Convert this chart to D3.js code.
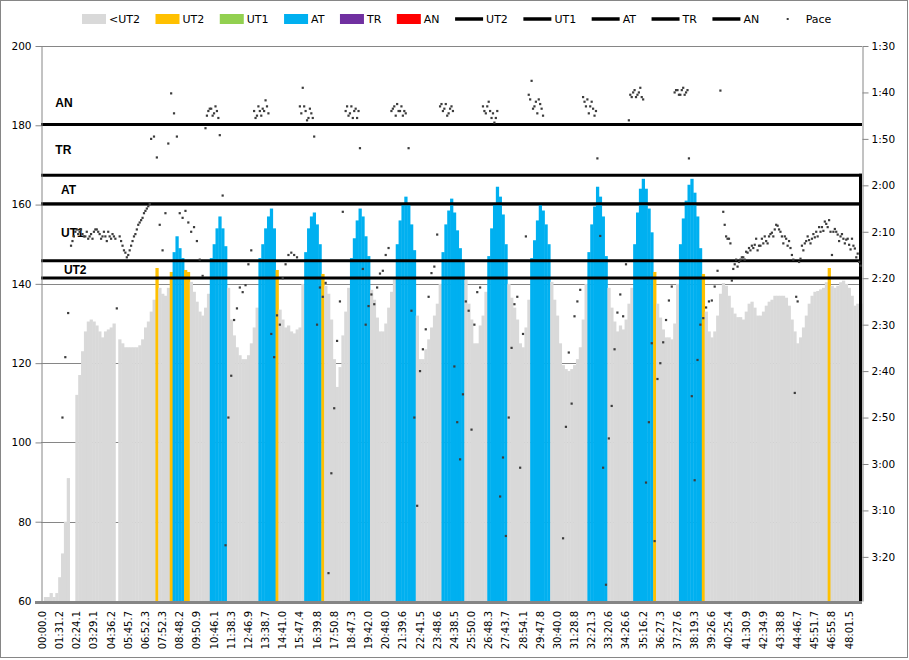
<!DOCTYPE html>
<html>
<head>
<meta charset="utf-8">
<script src="https://cdn.jsdelivr.net/npm/d3@7/dist/d3.min.js"></script>
<style>
  body { margin: 0; background: #fff; }
  svg { display: block; }
  text { font-family: "DejaVu Sans", Verdana, sans-serif; }
</style>
</head>
<body>
<svg id="chart" width="909" height="660"></svg>
<script>
// heart rate per sample (bpm), null = no reading
const hr = [
  null, 61, 61, 62, 61, 62, 66, 72, 80, 91,
  null, null, 112, 117, 123, 128, 130.5, 131, 130.5, 129.5,
  128, 126.5, 128, 128.5, 129, 130, null, 126, 125, 124,
  124, 124, 124, 124, 124.5, 126, 129, 130.5, 133, 136,
  144, 139, 137.5, 137, 139, 143, 148, 152, 149, 146.5,
  143.5, 143, 140.5, 138, 135.5, 133, 132, 134, 137.5, 146.5,
  150, 154, 157, 154, 149.5, 139, 131, 127, 124, 122,
  121, 121, 122, 125, 129, 134, 146.5, 150, 154, 157,
  159, 154, 143.5, 133.5, 131, 129, 129.5, 128, 127.5, 128.5,
  129, 140, 148, 154, 157, 158, 155, 150, 142.5, 139.5,
  137.5, 131, 121, 114, 119, 127, 133, 139, 146.5, 151.5,
  156, 159, 157, 152, 147, 138.5, 136, 131.5, 128, 128,
  130, 134, 138, 141.5, 150, 156, 160, 162, 160, 155,
  148.5, 132, 121, 121, 123.5, 126, 129, 132, 135, 140,
  148, 155, 158.5, 161.5, 158, 153.5, 149, 146, 141, 135,
  131, 125, 125, 129.5, 132, 138, 147, 154, 160, 164.5,
  162, 157.5, 150, 140, 136.5, 134, 131, 125, 124, 129,
  136, 146.5, 151, 156, 160, 158.5, 155, 150, 140.5, 136,
  132, 125, 119.5, 118.5, 118, 118.5, 119.5, 121, 124, 131,
  140, 148, 155, 159.5, 164.5, 162, 157, 147, 139, 134,
  130.5, 128, 129.5, 128.5, 131, 135, 139, 150, 158, 164,
  166.5, 164, 159, 153, 143, 135, 131.5, 128.5, 126.5, 126.5,
  126, 130, 140, 150, 156.5, 161, 165, 166.5, 163, 157,
  149, 142.5, 133, 128, 126.5, 128, 132, 137.5, 140.2, 139.5,
  137, 134, 132.5, 131.6, 131.6, 131, 133, 135, 135.5, 134,
  132, 132, 133, 134.5, 135.5, 136, 137, 137, 137, 137,
  136.5, 134.5, 131, 128, 125, 126.5, 129, 132, 135, 137,
  138, 138.2, 138.6, 139, 140.4, 144, 139.5, 139, 139.5, 140.4,
  140.8, 140, 139, 137, 134.5, 135, 135
];

// pace at each sample (seconds per 500 m), null = no reading
const pace = [
  null, null, null, null, null, null, null, 170, 157, 147.5,
  133, 131, 129.5, 130, 130.5, 131, 131.5, 130.5, 130, 129.5,
  130.5, 131, 131, 130, 131.5, 131, 146.5, 131, 133, 134.5,
  135, 133, 131, 129.5, 128, 127, 125.5, 124.5, 110, 109.5,
  114, 128.5, 134, 126, 111, 100.2, 104.5, 109.5, 126, 127,
  125.5, 128, 130, 129, 132, 136, 139.5, 107.7, 104, 103.5,
  104.5, 104, 109.2, 122.2, 197.5, 170, 161, 149, 146.5, 142,
  143, 141.5, 137, 134, 104, 105, 104, 103.5, 101.7, 104.5,
  152, 157, 148, 150, 140, 137, 135, 134.5, 135, 135.5,
  103, 99, 104, 105.5, 104.5, 109.5, 150, 142, 144, 141,
  203.5, 182, 168, 153.5, 145, 125.7, 104, 105, 103, 104,
  105.5, 112, 138, 150, 146, 143.5, 145.6, 142, 139, 138.4,
  135, 133.5, 104, 103, 102.5, 104, 105, 104.5, 112, 147,
  170, 189, 160, 155.3, 151, 144, 138.9, 137.5, 130.6, 103,
  104, 102.5, 104.5, 103, 159, 171, 179, 165, 145, 147,
  172.6, 150, 143, 142, 103, 104.5, 102, 105.5, 106.5, 104,
  187, 178.6, 195.5, 170, 155, 145.6, 144, 180.8, 152, 131,
  100.5, 97.5, 103, 104.5, 102.5, 105, null, null, null, null,
  null, null, 196, 172, 156, 167, 148.2, 145, 142.5, 101,
  103, 104.5, 102, 105, 114.2, 130.9, 180.8, 206, 174.5, 167.5,
  155.3, 147.4, 143.5, 148.2, 137, 106, 101, 99.5, 100.5, 99,
  101.5, 184, 171, 154, 196.6, 161.7, 158.3, 153.8, 149, 144.8,
  141.8, 100, 99.5, 100.5, 99, 100, 114.2, 165.4, 183.5, 157.6,
  150, 148.6, 146.3, 145, 144.8, 141.8, 138.4, 99.6, 125.7, 131,
  131.5, 140.5, 137, 137.5, 136, 135.5, 134.3, 133.5, 133, 132.8,
  134, 133, 132.5, 132, 131, 130.2, 129.5, 128.7, 130, 132.5,
  131.5, 132, 135, 164.7, 145, 135.8, 134, 132, 131.8, 131.5,
  131.2, 131, 130, 129.8, 128.3, 127.5, 135, 129.4, 130.6, 131,
  131.5, 131.7, 132.8, 131.5, 133.6, 134.7, 137.3
];

// pace read half a sample later (between sample i and i+1)
const paceHalf = [
  null, null, null, null, null, null, null, null, null, null,
  132, 130, 130.5, 129.5, 131, 130, 131, 131.5, 129.5, 130,
  131.5, 130, 132, 131, 130.5, 131.5, null, 132, 134, 135.5,
  134, 132, 130.5, 128.5, 127.5, 126, 125, 124, null, null,
  null, null, null, null, null, null, null, null, null, null,
  null, null, null, null, null, null, null, 105, 103.5, 105,
  103, 105.5, null, null, null, null, null, null, null, null,
  null, null, null, null, 105.5, 103, 105, 104, 103, null,
  null, null, null, null, null, null, null, null, null, null,
  104.5, 103, 106, 103.5, 105.5, null, null, null, null, null,
  null, null, null, null, null, null, 103, 104.5, 105.5, 103.5,
  104, null, null, null, null, null, null, null, null, null,
  null, null, 103.5, 105, 104, 103, 104, null, null, null,
  null, null, null, null, null, null, null, null, null, 102.5,
  103.5, 105, 103.5, 104, null, null, null, null, null, null,
  null, null, null, null, 104, 103, 104, 104.5, 105.5, null,
  null, null, null, null, null, null, null, null, null, null,
  101.5, 103.5, 102, 101.5, 103.5, null, null, null, null, null,
  null, null, null, null, null, null, null, null, null, 102,
  101.5, 103, 103.5, 104, null, null, null, null, null, null,
  null, null, null, null, null, 100.5, 100, 101, 100, 101,
  null, null, null, null, null, null, null, null, null, null,
  null, 99.5, 100.5, 99.5, 100.5, 99.5, null, null, null, null,
  null, null, null, null, null, null, null, null, 128.5, 131.5,
  132.5, 138, 136, 136.5, 135.5, 136, 134.5, 134, 133.5, 131.5,
  133, 131.5, 131, 132.5, 130.5, 131, 128.5, 129.5, 131, 131,
  133, 133.5, 136, 144, 136.5, 133, 132.5, 131, 132.5, 130.5,
  130, 129, 129, 127.8, 129, 130, 130, 130, 132, 130.5,
  132.5, 131.5, 133.8, 133, 135.5, 136.5, null
];

// elapsed time shown every 6th sample
const timeLabels = [
  '00:00.0', '01:31.2', '02:24.1', '03:29.1', '04:36.2', '05:45.7', '06:52.3', '07:52.3',
  '08:48.2', '09:50.9', '10:46.1', '11:38.3', '12:46.9', '13:38.7', '14:41.0', '15:47.4',
  '16:39.8', '17:50.8', '18:47.3', '19:42.0', '20:48.0', '21:39.6', '22:41.5', '23:48.6',
  '24:38.5', '25:50.0', '26:48.3', '27:43.7', '28:54.1', '29:47.8', '30:40.0', '31:28.8',
  '32:21.3', '33:20.6', '34:26.6', '35:16.2', '36:27.3', '37:27.6', '38:19.3', '39:26.6',
  '40:25.4', '41:30.9', '42:34.9', '43:38.8', '44:46.7', '45:51.7', '46:55.8', '48:01.5'
];
const labelEvery = 6;

// zone lines (lower bound of each zone, bpm)
const zoneNames = ['UT2', 'UT1', 'AT', 'TR', 'AN'];
const zoneLines = [141.5, 145.8, 160.2, 167.4, 180.2];
const zoneLabelAt = [8, 7, 7, 5, 5]; // sample index where the zone name sits
const zoneTop = 191;

// fill colouring of the HR columns
const fillNames = ['<UT2', 'UT2', 'UT1', 'AT', 'TR', 'AN'];
const fillFrom = [0, 142, 145.5, 146, 190, 200];
const fillColors = ['#d9d9d9', '#ffc000', '#92d050', '#00b0f0', '#7030a0', '#ff0000'];

const svg = d3.select('#chart');
const x0 = 41, x1 = 862, yTop = 46, yBot = 601;
const axisGrey = '#868686';

const x = d3.scaleBand().domain(d3.range(hr.length)).range([x0, x1]).padding(0);
const bw = x.bandwidth();
const xs = d3.scaleLinear().domain([0, hr.length]).range([x0, x1]); // sample time -> px
const yL = d3.scaleLinear().domain([60, 200]).range([yBot, yTop]);
const yR = d3.scaleLinear().domain([90, 209.5]).range([yTop, yBot]);

const zoneOf = (v) => {
  let k = 0;
  fillFrom.forEach((f, j) => { if (v >= f) k = j; });
  return k;
};

// outer frame
svg.append('rect')
  .attr('x', 0.5).attr('y', 0.5).attr('width', 907).attr('height', 657)
  .attr('fill', '#fff').attr('stroke', axisGrey);

// gridlines
svg.append('g')
  .selectAll('line')
  .data(d3.range(80, 201, 20))
  .enter()
  .append('line')
  .attr('x1', x0).attr('x2', x1)
  .attr('y1', (d) => Math.round(yL(d)) + 0.5)
  .attr('y2', (d) => Math.round(yL(d)) + 0.5)
  .attr('stroke', axisGrey);

// heart rate columns
svg.append('g')
  .selectAll('rect')
  .data(hr.map((v, i) => ({ v, i })).filter((d) => d.v != null))
  .enter()
  .append('rect')
  .attr('x', (d) => x(d.i))
  .attr('width', bw + 0.4)
  .attr('y', (d) => yL(d.v))
  .attr('height', (d) => yBot - yL(d.v))
  .attr('fill', (d) => fillColors[zoneOf(d.v)]);

// zone lines
svg.append('g')
  .selectAll('line')
  .data(zoneLines)
  .enter()
  .append('line')
  .attr('x1', x0).attr('x2', x1)
  .attr('y1', (d) => yL(d)).attr('y2', (d) => yL(d))
  .attr('stroke', '#000').attr('stroke-width', 3);

// the zone series drop down at the last sample
svg.append('line')
  .attr('x1', x1 - 1.5).attr('x2', x1 - 1.5)
  .attr('y1', yL(zoneLines[3]) - 1.5).attr('y2', yBot)
  .attr('stroke', '#000').attr('stroke-width', 3);

// zone names
svg.append('g')
  .selectAll('text')
  .data(zoneNames)
  .enter()
  .append('text')
  .attr('x', (d, k) => x(zoneLabelAt[k]))
  .attr('y', (d, k) => yL(((zoneLines[k + 1] || zoneTop) + zoneLines[k]) / 2))
  .attr('dy', '0.35em')
  .style('font-family', '"Liberation Sans", Arial, sans-serif')
  .style('font-weight', 'bold')
  .style('font-size', '12px')
  .text((d) => d);

// pace dots
const paceDots = [
  ...pace.map((v, i) => ({ v, t: i + 0.5 })),
  ...paceHalf.map((v, i) => ({ v, t: i + 1 }))
].filter((d) => d.v != null);
svg.append('g')
  .selectAll('rect')
  .data(paceDots)
  .enter()
  .append('rect')
  .attr('x', (d) => xs(d.t) - 1.1)
  .attr('y', (d) => yR(d.v) - 1.1)
  .attr('width', 2.2).attr('height', 2.2)
  .attr('fill', '#3c3c3c');

// left axis
const left = svg.append('g')
  .attr('transform', `translate(${x0 + 0.5},0)`)
  .call(d3.axisLeft(yL).tickValues(d3.range(60, 201, 20)).tickSize(6).tickPadding(4).tickSizeOuter(0));
left.select('.domain').attr('stroke', axisGrey);
left.selectAll('.tick line').attr('stroke', axisGrey);
left.selectAll('.tick text').style('font-size', '10.5px').attr('fill', '#000');

// right axis (pace)
const fmt = (s) => `${Math.floor(s / 60)}:${String(s % 60).padStart(2, '0')}`;
const right = svg.append('g')
  .attr('transform', `translate(${x1 + 0.5},0)`)
  .call(d3.axisRight(yR).tickValues(d3.range(90, 201, 10)).tickFormat(fmt).tickSize(6).tickPadding(3).tickSizeOuter(0));
right.select('.domain').attr('stroke', axisGrey);
right.selectAll('.tick line').attr('stroke', axisGrey);
right.selectAll('.tick text').style('font-size', '10.5px').attr('fill', '#000');

// bottom axis
svg.append('line')
  .attr('x1', x0 - 6).attr('x2', x1)
  .attr('y1', yBot + 1.5).attr('y2', yBot + 1.5)
  .attr('stroke', '#858585').attr('stroke-width', 3);

svg.append('g')
  .selectAll('text')
  .data(timeLabels)
  .enter()
  .append('text')
  .attr('transform', (d, k) => `translate(${x(k * labelEvery) + bw / 2},611) rotate(-90)`)
  .attr('dy', '0.35em')
  .attr('text-anchor', 'end')
  .style('font-size', '10px')
  .text((d) => d);

// legend
const legend = svg.append('g').attr('transform', 'translate(82,19)')
  .style('font-family', '"Liberation Sans", Arial, sans-serif')
  .style('font-size', '11px');
const items = [
  ...fillNames.map((n, k) => ({ kind: 'box', name: n, color: fillColors[k] })),
  ...zoneNames.map((n) => ({ kind: 'line', name: n })),
  { kind: 'dot', name: 'Pace' }
];
let lx = 0;
items.forEach((it) => {
  const g = legend.append('g').attr('transform', `translate(${lx},0)`);
  let w;
  if (it.kind === 'box') {
    w = 24;
    g.append('rect').attr('x', 0).attr('y', -5).attr('width', w).attr('height', 10).attr('fill', it.color);
  } else if (it.kind === 'line') {
    w = 28;
    g.append('line').attr('x1', 0).attr('x2', w).attr('y1', 0).attr('y2', 0)
      .attr('stroke', '#000').attr('stroke-width', 3.5);
  } else {
    w = 28;
    g.append('rect').attr('x', 12).attr('y', -1).attr('width', 2).attr('height', 2).attr('fill', '#3c3c3c');
  }
  const t = g.append('text').attr('x', w + 3).attr('dy', '0.35em').text(it.name);
  lx += w + 3 + t.node().getComputedTextLength() + 15.5;
});
</script>
</body>
</html>
